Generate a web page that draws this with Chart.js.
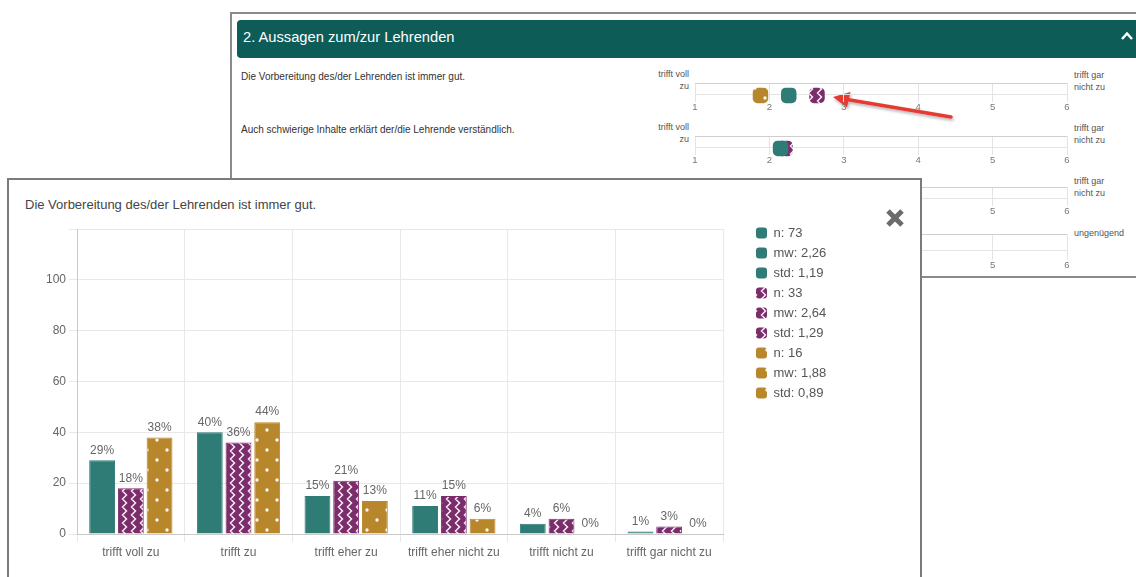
<!DOCTYPE html>
<html lang="de">
<head>
<meta charset="UTF-8">
<title>Aussagen zum/zur Lehrenden</title>
<script src="https://cdn.jsdelivr.net/npm/chart.js"></script>
<style>
  body { margin: 0; width: 1136px; height: 577px; position: relative; overflow: hidden; background: #fff;
         font-family: Arial, "Liberation Sans", sans-serif; }
  .abs { position: absolute; }
  .panel { left: 230px; top: 12px; width: 940px; height: 266px; border: 2px solid #8a8a8a; box-sizing: border-box; }
  .panel-head { left: 237px; top: 20px; width: 920px; height: 38px; background: #0d5c58; border-radius: 4px;
                color: #fff; font-size: 14.7px; line-height: 35px; padding-left: 6px; box-sizing: border-box; }
  .question { left: 241px; font-size: 10px; line-height: 12px; color: #333; white-space: nowrap; }
  .lbl-l { left: 600px; width: 89px; text-align: right; font-size: 9px; line-height: 11.5px; color: #555; }
  .lbl-r { left: 1074px; font-size: 9px; line-height: 11.5px; color: #555; white-space: nowrap; }
  .mean { left: 680px; }
  .modal { left: 7px; top: 178px; width: 915px; height: 430px; border: 2px solid #7b7b7b; background: #fff;
           box-sizing: border-box; z-index: 10; }
  .modal-title { left: 16px; top: 17px; font-size: 13px; line-height: 16px; color: #444; white-space: nowrap; }
</style>
</head>
<body>

<div class="abs panel"></div>
<div class="abs panel-head">2. Aussagen zum/zur Lehrenden</div>
<svg class="abs" style="left:0;top:0" width="1136" height="300">
  <defs>
    <filter id="shade" x="-10%" y="-50%" width="120%" height="200%">
      <feDropShadow dx="1" dy="2" stdDeviation="1.5" flood-color="#000" flood-opacity="0.3"/>
    </filter>
  </defs>
  <polyline points="1122,39 1127,33.5 1132,39" fill="none" stroke="#fff" stroke-width="2.5"/>
  <g filter="url(#shade)">
    <line x1="951" y1="117" x2="847" y2="99.5" stroke="#e63b31" stroke-width="3.5" stroke-linecap="round"/>
    <polygon points="833,97 850.5,92 847,107.5" fill="#e63b31"/>
  </g>
</svg>

<div class="abs question" id="q1" style="top:71px"></div>
<div class="abs question" id="q2" style="top:124px"></div>

<div class="abs lbl-l" style="top:69px">trifft voll<br>zu</div>
<div class="abs lbl-r" style="top:70px">trifft gar<br>nicht zu</div>
<div class="abs lbl-l" style="top:122px">trifft voll<br>zu</div>
<div class="abs lbl-r" style="top:123px">trifft gar<br>nicht zu</div>
<div class="abs lbl-l" style="top:177px">trifft voll<br>zu</div>
<div class="abs lbl-r" style="top:176px">trifft gar<br>nicht zu</div>
<div class="abs lbl-r" style="top:228px">ungenügend</div>

<canvas class="abs mean" id="row1" width="402" height="50"></canvas>
<canvas class="abs mean" id="row2" width="402" height="50"></canvas>
<canvas class="abs mean" id="row3" width="402" height="50"></canvas>
<canvas class="abs mean" id="row4" width="402" height="50"></canvas>

<div class="abs modal">
  <div class="abs modal-title" id="modalTitle"></div>
  <svg class="abs" style="left:875px;top:27px" width="22" height="22">
    <line x1="4" y1="4" x2="18" y2="18" stroke="#6b6b6b" stroke-width="5"/>
    <line x1="18" y1="4" x2="4" y2="18" stroke="#6b6b6b" stroke-width="5"/>
  </svg>
  <canvas class="abs" id="detail" width="893" height="362" style="left:3px;top:35px"></canvas>
</div>

<script>
  // answer categories and percentage per group
  const categories = ['trifft voll zu', 'trifft zu', 'trifft eher zu', 'trifft eher nicht zu', 'trifft nicht zu', 'trifft gar nicht zu'];
  const groupA = [29, 40, 15, 11, 4, 1];
  const groupB = [18, 36, 21, 15, 6, 3];
  const groupC = [38, 44, 13, 6, 0, 0];

  // summary stats per group
  const groupN = [73, 33, 16];
  const groupMean = [2.26, 2.64, 1.88];
  const groupStd = [1.19, 1.29, 0.89];

  // means for the second statement
  const row2Mean = [2.15, 2.21, null];

  const questions = [
    'Die Vorbereitung des/der Lehrenden ist immer gut.',
    'Auch schwierige Inhalte erklärt der/die Lehrende verständlich.'
  ];

  const colors = ['#2f7b76', '#7b2c6b', '#b8862b'];
  const font = 'Arial, "Liberation Sans", sans-serif';

  document.getElementById('q1').textContent = questions[0];
  document.getElementById('q2').textContent = questions[1];
  document.getElementById('modalTitle').textContent = questions[0];

  function zigzag(color) {
    const c = document.createElement('canvas');
    c.width = 9; c.height = 8;
    const g = c.getContext('2d');
    g.fillStyle = color; g.fillRect(0, 0, 9, 8);
    g.strokeStyle = 'rgba(255,255,255,0.9)'; g.lineWidth = 1.5;
    g.beginPath();
    g.moveTo(2.5, -4); g.lineTo(6.5, 0); g.lineTo(2.5, 4); g.lineTo(6.5, 8); g.lineTo(2.5, 12);
    g.stroke();
    return g.createPattern(c, 'repeat');
  }

  function dots(color) {
    const c = document.createElement('canvas');
    c.width = 20; c.height = 20;
    const g = c.getContext('2d');
    g.fillStyle = color; g.fillRect(0, 0, 20, 20);
    g.fillStyle = 'rgba(255,255,255,0.95)';
    [[5, 5], [15, 15]].forEach(([x, y]) => { g.beginPath(); g.arc(x, y, 1.7, 0, Math.PI * 2); g.fill(); });
    return g.createPattern(c, 'repeat');
  }

  const fills = [colors[0], zigzag(colors[1]), dots(colors[2])];
  const fmt = v => v.toFixed(2).replace('.', ',');

  // small mean charts in the background panel
  function meanChart(id, areaTop, areaH, means) {
    const cv = document.getElementById(id);
    cv.style.top = (areaTop - 10) + 'px';
    new Chart(cv, {
      type: 'scatter',
      data: {
        datasets: means.map((m, i) => ({
          data: m == null ? [] : [{ x: m, y: 0.8 }],
          pointStyle: 'rectRounded',
          pointRadius: 9,
          pointHoverRadius: 9,
          backgroundColor: fills[i],
          borderWidth: 0,
          clip: false
        }))
      },
      options: {
        responsive: false,
        animation: false,
        events: [],
        layout: { padding: { top: 10, left: 15, right: 15, bottom: 0 } },
        plugins: { legend: { display: false }, tooltip: { enabled: false } },
        scales: {
          x: {
            type: 'linear', min: 1, max: 6,
            ticks: { stepSize: 1, padding: 0, color: '#777', font: { size: 9.5, family: font } },
            grid: { color: '#e4e4e4', tickLength: 2 },
            border: { display: false },
            afterFit: s => { s.height = cv.height - 10 - areaH; }
          },
          y: {
            min: 0, max: 3,
            afterBuildTicks: s => { s.ticks = [{ value: 1 }, { value: 3 }]; },
            ticks: { display: false },
            grid: { drawTicks: false, color: c => c.tick.value === 3 ? '#cfcfcf' : '#e4e4e4' },
            border: { display: false }
          }
        }
      }
    });
  }

  meanChart('row1', 83, 17, groupMean);
  meanChart('row2', 136, 17, row2Mean);
  meanChart('row3', 187, 17, [null, null, null]);
  meanChart('row4', 234, 24, [null, null, null]);

  // percentage above each bar
  const barValueLabels = {
    id: 'barValueLabels',
    afterDatasetsDraw(chart) {
      const ctx = chart.ctx;
      ctx.save();
      ctx.font = '12px ' + font;
      ctx.fillStyle = '#666';
      ctx.textAlign = 'center';
      ctx.textBaseline = 'bottom';
      chart.data.datasets.forEach((ds, i) => {
        chart.getDatasetMeta(i).data.forEach((bar, j) => {
          ctx.fillText(ds.data[j] + '%', bar.x, bar.y - 4);
        });
      });
      ctx.restore();
    }
  };

  // legend column to the right of the plot, near the top
  const legendPlacement = {
    id: 'legendPlacement',
    afterLayout(chart) {
      const lg = chart.legend;
      lg.left = 737; lg.right = lg.left + lg.width;
      lg.top = 4.5;
    }
  };

  const series = [groupA, groupB, groupC];

  new Chart(document.getElementById('detail'), {
    type: 'bar',
    data: {
      labels: categories,
      datasets: series.map((d, i) => ({
        label: 'n: ' + groupN[i],
        data: d,
        backgroundColor: fills[i],
        borderColor: colors[i],
        borderWidth: 1
      }))
    },
    options: {
      responsive: false,
      animation: false,
      events: [],
      layout: { padding: { top: 14, left: 0, right: 182, bottom: 0 } },
      plugins: {
        tooltip: { enabled: false },
        legend: {
          position: 'chartArea',
          align: 'start',
          labels: {
            boxWidth: 11,
            boxHeight: 11,
            padding: 7,
            useBorderRadius: true,
            borderRadius: 3,
            color: '#555',
            font: { size: 13, family: font },
            generateLabels: () => groupN.flatMap((n, i) => [
              'n: ' + n, 'mw: ' + fmt(groupMean[i]), 'std: ' + fmt(groupStd[i])
            ].map(text => ({
              text, fillStyle: fills[i], strokeStyle: colors[i], lineWidth: 0,
              borderRadius: 3, fontColor: '#555', datasetIndex: i
            })))
          }
        }
      },
      scales: {
        x: {
          grid: { color: '#e8e8e8', tickLength: 8 },
          border: { color: '#c9c9c9' },
          ticks: { color: '#666', font: { size: 12, family: font } },
          afterFit: s => { s.height = 43; }
        },
        y: {
          min: 0, max: 120,
          ticks: { stepSize: 20, color: '#666', font: { size: 12, family: font }, callback: v => v === 120 ? '' : v },
          grid: { color: '#e8e8e8' },
          border: { color: '#c9c9c9' },
          afterFit: s => { s.width = 65; }
        }
      }
    },
    plugins: [barValueLabels, legendPlacement]
  });
</script>
</body>
</html>
